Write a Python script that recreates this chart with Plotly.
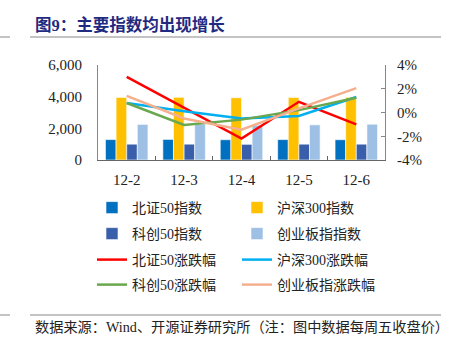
import plotly.graph_objects as go

categories = ["12-2", "12-3", "12-4", "12-5", "12-6"]

bz50_idx = [1290, 1300, 1280, 1290, 1280]
hs300_idx = [3950, 3960, 3930, 3950, 3960]
kc50_idx = [1000, 1000, 990, 1000, 1000]
cyb_idx = [2250, 2260, 2200, 2220, 2260]

bz50_chg = [3.0, 0.4, -2.2, 0.9, -1.0]
hs300_chg = [0.8, 0.1, -0.5, -0.3, 1.3]
kc50_chg = [0.8, -1.05, -0.6, 0.2, 1.25]
cyb_chg = [1.4, -0.5, -1.45, 0.35, 2.05]

left_ticks = [0, 2000, 4000, 6000]
right_ticks = [-4, -2, 0, 2, 4]
right_labels = ["-4%", "-2%", "0%", "2%", "4%"]

W, H = 449, 346
L, R, T, B = 98, 64, 65, 186
pw, ph = W - L - R, H - T - B

def px(x):
    return (x - L) / pw

def py(y):
    return (H - B - y) / ph

fig = go.Figure()
bar_specs = [("北证50指数", bz50_idx, "#0070c0", "legend"),
             ("沪深300指数", hs300_idx, "#ffc000", "legend"),
             ("科创50指数", kc50_idx, "#3a5faa", "legend2"),
             ("创业板指指数", cyb_idx, "#9dc0e4", "legend2")]
for name, vals, col, lg in bar_specs:
    fig.add_trace(go.Bar(x=categories, y=vals, name=name, legend=lg,
                         marker=dict(color=col, line=dict(width=0.6, color="white")), yaxis="y"))

line_specs = [("北证50涨跌幅", bz50_chg, "#ff0000", "legend3"),
              ("沪深300涨跌幅", hs300_chg, "#00b0f0", "legend3"),
              ("科创50涨跌幅", kc50_chg, "#6aa84f", "legend4"),
              ("创业板指涨跌幅", cyb_chg, "#f4b08e", "legend4")]
for name, vals, col, lg in line_specs:
    fig.add_trace(go.Scatter(x=categories, y=vals, name=name, legend=lg, mode="lines",
                             line=dict(color=col, width=2.5), yaxis="y2"))

font_num = "Liberation Serif, Noto Sans CJK SC, serif"

def legend_row(yc):
    return dict(orientation="h", x=px(92), y=py(yc), xanchor="left", yanchor="middle",
                entrywidth=100, entrywidthmode="pixels", traceorder="normal",
                font=dict(family=font_num, size=14, color="#222"), itemwidth=30,
                bgcolor="rgba(0,0,0,0)")

fig.update_layout(
    width=W, height=H,
    margin=dict(l=L, r=R, t=T, b=B, autoexpand=False),
    paper_bgcolor="white", plot_bgcolor="white",
    barmode="group", bargap=0.26, bargroupgap=0,
    showlegend=True,
    font=dict(family=font_num, size=14, color="#222"),
    xaxis=dict(type="category", showline=True, linecolor="#666", linewidth=1,
               ticks="inside", tickson="boundaries", ticklen=4, tickcolor="#666",
               ticklabelstandoff=6,
               tickfont=dict(family=font_num, size=15, color="#222"), showgrid=False),
    yaxis=dict(range=[0, 6000], tickvals=left_ticks, tickformat=",", showline=True,
               linecolor="#888", linewidth=1, showgrid=False, zeroline=False, ticks="",
               ticklabelstandoff=12,
               tickfont=dict(family=font_num, size=15, color="#222")),
    yaxis2=dict(range=[-4, 4], tickvals=right_ticks, ticktext=right_labels, overlaying="y", side="right",
                showline=True, linecolor="#888", linewidth=1, showgrid=False, zeroline=False,
                ticks="inside", ticklen=4, tickcolor="#888", ticklabelstandoff=8,
                tickfont=dict(family=font_num, size=15, color="#222")),
    legend=legend_row(208),
    legend2=legend_row(234),
    legend3=legend_row(260),
    legend4=legend_row(285),
)

fig.add_annotation(x=px(33), y=py(25), xref="paper", yref="paper", xanchor="left", yanchor="middle",
                   text="<b>图9：主要指数均出现增长</b>", showarrow=False,
                   font=dict(family="Liberation Serif, Noto Sans CJK SC, serif", size=16.5, color="#1f2a80"))
fig.add_annotation(x=px(33), y=py(327), xref="paper", yref="paper", xanchor="left", yanchor="middle",
                   text="数据来源：Wind、开源证券研究所（注：图中数据每周五收盘价）", showarrow=False,
                   font=dict(family=font_num, size=14.2, color="#222"))

for yy in (37, 315):
    fig.add_shape(type="line", xref="paper", yref="paper", x0=px(30), x1=px(441), y0=py(yy), y1=py(yy),
                  line=dict(color="#888", width=1))
    fig.add_shape(type="line", xref="paper", yref="paper", x0=px(0), x1=px(10), y0=py(yy), y1=py(yy),
                  line=dict(color="#888", width=1))

fig.write_html("out.html")
